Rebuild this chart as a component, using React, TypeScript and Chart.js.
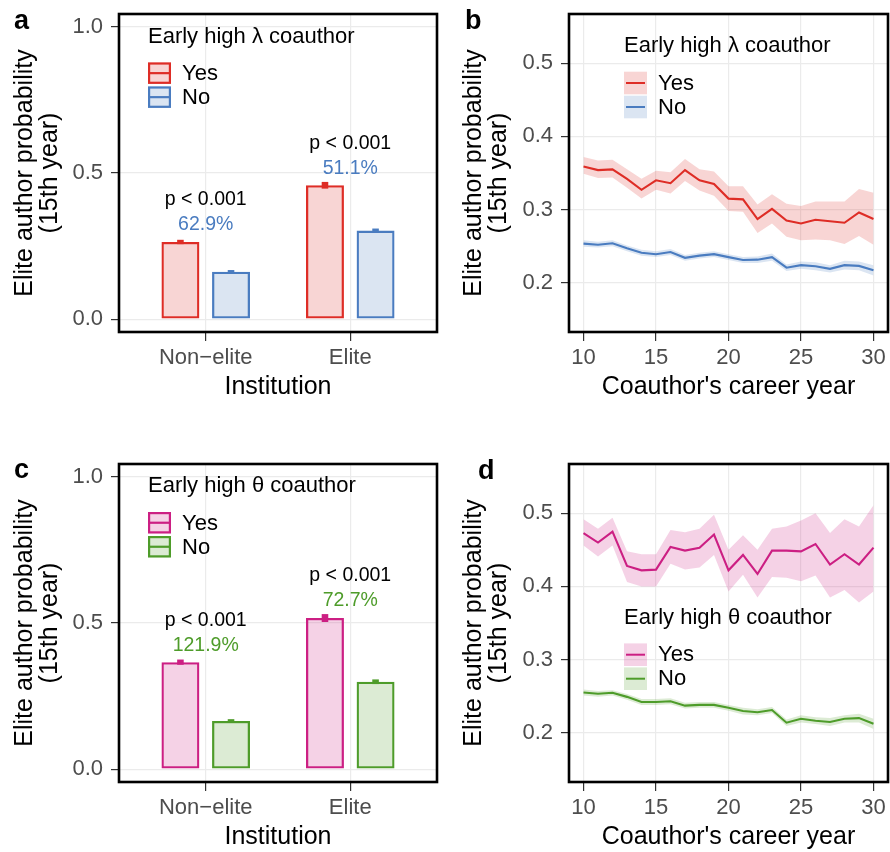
import React, { useEffect, useRef } from 'react';
import { Chart, registerables } from 'chart.js';

Chart.register(...registerables);

const FONT = "'Liberation Sans', Arial, Helvetica, sans-serif";
Chart.defaults.font.family = FONT;

// ---------- Panels a & c (bars) ----------
const institutions = ['Non\u2212elite', 'Elite'];
const barTicksY = [0, 0.5, 1.0];

const lambdaYes = [0.264, 0.458];
const lambdaNo = [0.162, 0.303];
const lambdaYesLo = [0.2565, 0.4465];
const lambdaYesHi = [0.2715, 0.4695];
const lambdaNoLo = [0.156, 0.296];
const lambdaNoHi = [0.168, 0.31];
const lambdaPText = ['p < 0.001', 'p < 0.001'];
const lambdaPct = ['62.9%', '51.1%'];

const thetaYes = [0.366, 0.517];
const thetaNo = [0.165, 0.299];
const thetaYesLo = [0.357, 0.5035];
const thetaYesHi = [0.375, 0.5305];
const thetaNoLo = [0.159, 0.291];
const thetaNoHi = [0.171, 0.307];
const thetaPText = ['p < 0.001', 'p < 0.001'];
const thetaPct = ['121.9%', '72.7%'];

// ---------- Panels b & d (lines) ----------
const careerYears = [10, 11, 12, 13, 14, 15, 16, 17, 18, 19, 20, 21, 22, 23, 24, 25, 26, 27, 28, 29, 30];
const lineTicksX = [10, 15, 20, 25, 30];
const lineTicksY = [0.2, 0.3, 0.4, 0.5];

const lambdaYesLine = [0.359, 0.354, 0.355, 0.342, 0.327, 0.34, 0.336, 0.354, 0.34, 0.335, 0.315, 0.314, 0.287, 0.301, 0.285, 0.281, 0.286, 0.284, 0.282, 0.296, 0.287];
const lambdaYesUpper = [0.372, 0.367, 0.368, 0.355, 0.342, 0.353, 0.351, 0.369, 0.355, 0.352, 0.332, 0.332, 0.307, 0.321, 0.308, 0.305, 0.311, 0.311, 0.311, 0.328, 0.323];
const lambdaYesLower = [0.349, 0.343, 0.344, 0.33, 0.315, 0.327, 0.322, 0.339, 0.326, 0.319, 0.298, 0.297, 0.268, 0.281, 0.263, 0.258, 0.259, 0.258, 0.253, 0.264, 0.252];
const lambdaNoLine = [0.2534, 0.252, 0.254, 0.247, 0.241, 0.239, 0.242, 0.234, 0.237, 0.239, 0.235, 0.231, 0.2315, 0.235, 0.2205, 0.224, 0.2225, 0.219, 0.224, 0.223, 0.217];
const lambdaNoUpper = [0.258, 0.256, 0.258, 0.251, 0.245, 0.243, 0.246, 0.238, 0.241, 0.243, 0.239, 0.235, 0.236, 0.24, 0.225, 0.229, 0.228, 0.224, 0.23, 0.229, 0.224];
const lambdaNoLower = [0.249, 0.248, 0.25, 0.243, 0.237, 0.235, 0.238, 0.23, 0.233, 0.235, 0.231, 0.227, 0.227, 0.23, 0.216, 0.219, 0.217, 0.214, 0.218, 0.217, 0.21];

const thetaYesLine = [0.473, 0.46, 0.475, 0.428, 0.422, 0.423, 0.454, 0.449, 0.453, 0.471, 0.422, 0.443, 0.417, 0.449, 0.449, 0.448, 0.458, 0.43, 0.444, 0.43, 0.453];
const thetaYesUpper = [0.492, 0.479, 0.494, 0.448, 0.444, 0.444, 0.477, 0.474, 0.479, 0.498, 0.45, 0.47, 0.45, 0.479, 0.482, 0.49, 0.5, 0.473, 0.492, 0.482, 0.511];
const thetaYesLower = [0.456, 0.441, 0.456, 0.406, 0.4, 0.4, 0.431, 0.423, 0.426, 0.443, 0.393, 0.416, 0.385, 0.413, 0.412, 0.407, 0.415, 0.385, 0.395, 0.378, 0.393];
const thetaNoLine = [0.255, 0.2533, 0.2547, 0.249, 0.242, 0.242, 0.243, 0.237, 0.238, 0.238, 0.234, 0.2296, 0.228, 0.231, 0.2137, 0.219, 0.2164, 0.2146, 0.219, 0.22, 0.2123];
const thetaNoUpper = [0.259, 0.257, 0.258, 0.253, 0.246, 0.246, 0.247, 0.241, 0.242, 0.242, 0.238, 0.234, 0.232, 0.235, 0.218, 0.224, 0.221, 0.22, 0.224, 0.226, 0.219];
const thetaNoLower = [0.251, 0.249, 0.251, 0.245, 0.238, 0.238, 0.239, 0.233, 0.234, 0.234, 0.23, 0.225, 0.224, 0.227, 0.209, 0.214, 0.212, 0.209, 0.214, 0.214, 0.205];

// ---------- colours ----------
const RED = '#DE2D26';
const RED_FILL = 'rgba(222,45,38,0.2)';
const BLUE = '#4A7CC0';
const BLUE_FILL = 'rgba(74,124,192,0.2)';
const MAGENTA = '#CC1F83';
const MAGENTA_FILL = 'rgba(204,31,131,0.2)';
const GREEN = '#4E9C2A';
const GREEN_FILL = 'rgba(78,156,42,0.2)';
const GRID = '#EBEBEB';
const TICK_TEXT = '#4D4D4D';

// ---------- plugins ----------
const framePlugin = {
  id: 'frame',
  afterDatasetsDraw(chart: any) {
    const { ctx, chartArea } = chart;
    ctx.save();
    ctx.strokeStyle = '#000';
    ctx.lineWidth = 2.6;
    ctx.strokeRect(chartArea.left, chartArea.top, chartArea.right - chartArea.left, chartArea.bottom - chartArea.top);
    ctx.restore();
  },
};

const insetLegendPlugin = {
  id: 'insetLegend',
  afterDatasetsDraw(chart: any, _args: any, opts: any) {
    if (!opts || !opts.items) return;
    const { ctx, chartArea } = chart;
    const x0 = chartArea.left + opts.dx;
    const y0 = chartArea.top + opts.dy;
    ctx.save();
    ctx.font = `22px ${FONT}`;
    ctx.textBaseline = 'middle';
    ctx.textAlign = 'left';
    ctx.fillStyle = '#000';
    ctx.fillText(opts.title, x0, y0);
    opts.items.forEach((it: any, i: number) => {
      const ky = y0 + 25.7 + i * 24;
      if (opts.kind === 'bar') {
        const w = 23, h = 21.5;
        ctx.fillStyle = it.fill;
        ctx.fillRect(x0, ky, w, h);
        ctx.strokeStyle = it.color;
        ctx.lineWidth = 2.2;
        ctx.strokeRect(x0 + 1.1, ky + 1.1, w - 2.2, h - 2.2);
        ctx.beginPath();
        ctx.moveTo(x0 + 1, ky + h / 2);
        ctx.lineTo(x0 + w - 1, ky + h / 2);
        ctx.stroke();
      } else {
        const w = 23, h = 22.6;
        ctx.fillStyle = it.fill;
        ctx.fillRect(x0, ky, w, h);
        ctx.strokeStyle = it.color;
        ctx.lineWidth = 2;
        ctx.beginPath();
        ctx.moveTo(x0 + 2, ky + h / 2);
        ctx.lineTo(x0 + w - 2, ky + h / 2);
        ctx.stroke();
      }
      ctx.fillStyle = '#000';
      ctx.fillText(it.label, x0 + 34, ky + 11.8);
    });
    ctx.restore();
  },
};

const barNotesPlugin = {
  id: 'barNotes',
  afterDatasetsDraw(chart: any, _args: any, opts: any) {
    if (!opts || !opts.pTexts) return;
    const { ctx } = chart;
    const xs = chart.scales.x;
    const ys = chart.scales.y;
    ctx.save();
    ctx.font = `19.5px ${FONT}`;
    ctx.textAlign = 'center';
    ctx.textBaseline = 'middle';
    opts.pTexts.forEach((t: string, i: number) => {
      const x = xs.getPixelForValue(i + 1);
      const top = ys.getPixelForValue(opts.anchor[i]);
      ctx.fillStyle = '#000';
      ctx.fillText(t, x, top - 42);
      ctx.fillStyle = opts.color;
      ctx.fillText(opts.pct[i], x, top - 17);
    });
    ctx.restore();
  },
};

const panelLetterPlugin = {
  id: 'panelLetter',
  afterDraw(chart: any, _args: any, opts: any) {
    if (!opts || !opts.text) return;
    const { ctx } = chart;
    ctx.save();
    ctx.font = `bold 27px ${FONT}`;
    ctx.fillStyle = '#000';
    ctx.textAlign = 'left';
    ctx.textBaseline = 'alphabetic';
    ctx.fillText(opts.text, opts.x, opts.y);
    ctx.restore();
  },
};

// ---------- axis helpers ----------
function xAxis(min: number, max: number, tickVals: number[], labelOf: (v: number, i: number) => string, title: string) {
  return {
    type: 'linear',
    min,
    max,
    offset: false,
    afterBuildTicks: (s: any) => {
      s.ticks = tickVals.map((v) => ({ value: v }));
    },
    afterFit: (s: any) => {
      s.height = 88;
      s.paddingLeft = 0;
      s.paddingRight = 0;
    },
    ticks: {
      autoSkip: false,
      maxRotation: 0,
      minRotation: 0,
      padding: 4,
      color: TICK_TEXT,
      font: { size: 22, family: FONT, lineHeight: 1.2 },
      callback: (v: any, i: number) => labelOf(Number(v), i),
    },
    grid: { color: GRID, lineWidth: 1.2, offset: false, drawTicks: true, tickLength: 9, tickColor: '#333333', tickWidth: 1.2 },
    border: { display: false },
    title: {
      display: true,
      text: title,
      color: '#000',
      font: { size: 25, family: FONT, lineHeight: 1 },
      padding: { top: 0, bottom: 20.8 },
    },
  };
}

function yAxis(min: number, max: number, tickVals: number[], width: number, titlePad: number) {
  return {
    type: 'linear',
    min,
    max,
    stacked: false,
    afterBuildTicks: (s: any) => {
      s.ticks = tickVals.map((v) => ({ value: v }));
    },
    afterFit: (s: any) => {
      s.width = width;
      s.paddingTop = 0;
      s.paddingBottom = 0;
    },
    ticks: {
      autoSkip: false,
      padding: 8,
      color: TICK_TEXT,
      font: { size: 22, family: FONT, lineHeight: 1.2 },
      callback: (v: any) => Number(v).toFixed(1),
    },
    grid: { color: GRID, lineWidth: 1.2, drawTicks: true, tickLength: 8, tickColor: '#333333', tickWidth: 1.2 },
    border: { display: false },
    title: {
      display: true,
      text: ['Elite author probability', '(15th year)'],
      color: '#000',
      font: { size: 25, family: FONT, lineHeight: 1 },
      padding: { top: titlePad, bottom: 0 },
    },
  };
}

// ---------- config builders ----------
type BarSpec = {
  yes: number[]; no: number[]; yesLo: number[]; yesHi: number[]; noLo: number[]; noHi: number[];
  pTexts: string[]; pct: string[]; colorYes: string; fillYes: string; colorNo: string; fillNo: string;
  legendTitle: string; letter: string; letterX: number; letterY: number; legendDy: number;
};

function makeBarConfig(s: BarSpec): any {
  const pts = (vals: number[]) => vals.map((v, i) => ({ x: i + 1, y: v }));
  const rng = (lo: number[], hi: number[]) => lo.map((v, i) => ({ x: i + 1, y: [v, hi[i]] }));
  const common = { categoryPercentage: 0.7, grouped: true };
  return {
    type: 'bar',
    data: {
      datasets: [
        { ...common, label: 'Yes err', data: rng(s.yesLo, s.yesHi), stack: 'yes', backgroundColor: s.colorYes, borderWidth: 0, barPercentage: 0.13, order: 0 },
        { ...common, label: 'No err', data: rng(s.noLo, s.noHi), stack: 'no', backgroundColor: s.colorNo, borderWidth: 0, barPercentage: 0.13, order: 0 },
        { ...common, label: 'Yes', data: pts(s.yes), stack: 'yes', backgroundColor: s.fillYes, borderColor: s.colorYes, borderWidth: 2.3, borderSkipped: false, barPercentage: 0.75, order: 1 },
        { ...common, label: 'No', data: pts(s.no), stack: 'no', backgroundColor: s.fillNo, borderColor: s.colorNo, borderWidth: 2.3, borderSkipped: false, barPercentage: 0.75, order: 1 },
      ],
    },
    options: {
      animation: false,
      responsive: false,
      devicePixelRatio: 1,
      events: [],
      layout: { padding: { left: 0, top: 14, right: 8, bottom: 0 } },
      scales: {
        x: xAxis(0.4, 2.6, institutions.map((_, i) => i + 1), (_v, i) => institutions[i] ?? '', 'Institution'),
        y: yAxis(-0.044, 1.044, barTicksY, 119, 12.5),
      },
      plugins: {
        legend: { display: false },
        tooltip: { enabled: false },
        insetLegend: {
          kind: 'bar',
          title: s.legendTitle,
          dx: 29,
          dy: s.legendDy,
          items: [
            { label: 'Yes', color: s.colorYes, fill: s.fillYes },
            { label: 'No', color: s.colorNo, fill: s.fillNo },
          ],
        },
        barNotes: { pTexts: s.pTexts, pct: s.pct, anchor: s.yes, color: s.colorNo },
        panelLetter: { text: s.letter, x: s.letterX, y: s.letterY },
      },
    },
    plugins: [framePlugin, insetLegendPlugin, barNotesPlugin, panelLetterPlugin],
  };
}

type LineSpec = {
  yesLine: number[]; yesUpper: number[]; yesLower: number[];
  noLine: number[]; noUpper: number[]; noLower: number[];
  colorYes: string; fillYes: string; colorNo: string; fillNo: string;
  legendTitle: string; legendDy: number; letter: string; letterX: number; letterY: number;
};

function ribbon(lower: number[], upper: number[], line: number[], color: string, fill: string, label: string) {
  const toPts = (vals: number[]) => careerYears.map((x, i) => ({ x, y: vals[i] }));
  return [
    { label: label + ' lower', data: toPts(lower), borderWidth: 0, borderColor: 'rgba(0,0,0,0)', pointRadius: 0, fill: false, order: 2 },
    { label: label + ' upper', data: toPts(upper), borderWidth: 0, borderColor: 'rgba(0,0,0,0)', pointRadius: 0, fill: '-1', backgroundColor: fill, order: 2 },
    { label, data: toPts(line), borderColor: color, borderWidth: 2.1, pointRadius: 0, fill: false, tension: 0, order: 1 },
  ];
}

function makeLineConfig(s: LineSpec): any {
  return {
    type: 'line',
    data: {
      datasets: [
        ...ribbon(s.yesLower, s.yesUpper, s.yesLine, s.colorYes, s.fillYes, 'Yes'),
        ...ribbon(s.noLower, s.noUpper, s.noLine, s.colorNo, s.fillNo, 'No'),
      ],
    },
    options: {
      animation: false,
      responsive: false,
      devicePixelRatio: 1,
      events: [],
      layout: { padding: { left: 0, top: 14, right: 2, bottom: 0 } },
      scales: {
        x: xAxis(9, 31, lineTicksX, (v) => String(v), "Coauthor's career year"),
        y: yAxis(0.1326, 0.5674, lineTicksY, 124, 17),
      },
      plugins: {
        legend: { display: false },
        tooltip: { enabled: false },
        insetLegend: {
          kind: 'ribbon',
          title: s.legendTitle,
          dx: 55,
          dy: s.legendDy,
          items: [
            { label: 'Yes', color: s.colorYes, fill: s.fillYes },
            { label: 'No', color: s.colorNo, fill: s.fillNo },
          ],
        },
        panelLetter: { text: s.letter, x: s.letterX, y: s.letterY },
      },
    },
    plugins: [framePlugin, insetLegendPlugin, panelLetterPlugin],
  };
}

const configA = () =>
  makeBarConfig({
    yes: lambdaYes, no: lambdaNo, yesLo: lambdaYesLo, yesHi: lambdaYesHi, noLo: lambdaNoLo, noHi: lambdaNoHi,
    pTexts: lambdaPText, pct: lambdaPct, colorYes: RED, fillYes: RED_FILL, colorNo: BLUE, fillNo: BLUE_FILL,
    legendTitle: 'Early high \u03BB coauthor', letter: 'a', letterX: 14, letterY: 28.5, legendDy: 22.7,
  });

const configB = () =>
  makeLineConfig({
    yesLine: lambdaYesLine, yesUpper: lambdaYesUpper, yesLower: lambdaYesLower,
    noLine: lambdaNoLine, noUpper: lambdaNoUpper, noLower: lambdaNoLower,
    colorYes: RED, fillYes: RED_FILL, colorNo: BLUE, fillNo: BLUE_FILL,
    legendTitle: 'Early high \u03BB coauthor', legendDy: 32, letter: 'b', letterX: 20, letterY: 29.3,
  });

const configC = () =>
  makeBarConfig({
    yes: thetaYes, no: thetaNo, yesLo: thetaYesLo, yesHi: thetaYesHi, noLo: thetaNoLo, noHi: thetaNoHi,
    pTexts: thetaPText, pct: thetaPct, colorYes: MAGENTA, fillYes: MAGENTA_FILL, colorNo: GREEN, fillNo: GREEN_FILL,
    legendTitle: 'Early high \u03B8 coauthor', letter: 'c', letterX: 14, letterY: 28.3, legendDy: 22.3,
  });

const configD = () =>
  makeLineConfig({
    yesLine: thetaYesLine, yesUpper: thetaYesUpper, yesLower: thetaYesLower,
    noLine: thetaNoLine, noUpper: thetaNoUpper, noLower: thetaNoLower,
    colorYes: MAGENTA, fillYes: MAGENTA_FILL, colorNo: GREEN, fillNo: GREEN_FILL,
    legendTitle: 'Early high \u03B8 coauthor', legendDy: 153.7, letter: 'd', letterX: 33, letterY: 29,
  });

function Panel({ left, top, make }: { left: number; top: number; make: () => any }) {
  const ref = useRef<HTMLCanvasElement>(null);
  useEffect(() => {
    if (!ref.current) return;
    const chart = new Chart(ref.current, make());
    return () => chart.destroy();
  }, [make]);
  return (
    <canvas
      ref={ref}
      width={445}
      height={420}
      style={{ position: 'absolute', left, top, width: 445, height: 420, display: 'block' }}
    />
  );
}

export default function App() {
  return (
    <div style={{ position: 'absolute', left: 0, top: 0, width: 890, height: 852, overflow: 'hidden', background: '#ffffff' }}>
      <Panel left={0} top={0} make={configA} />
      <Panel left={445} top={0} make={configB} />
      <Panel left={0} top={450} make={configC} />
      <Panel left={445} top={450} make={configD} />
    </div>
  );
}
